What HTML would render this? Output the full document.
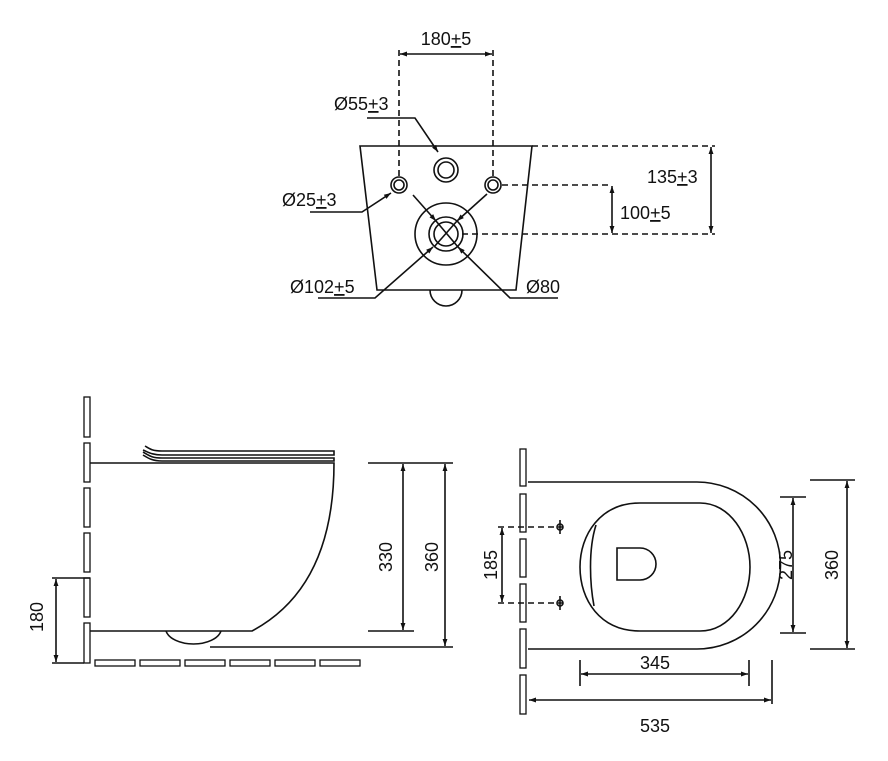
<!DOCTYPE html>
<html><head><meta charset="utf-8"><style>
html,body{margin:0;padding:0;background:#fff;}
svg{display:block;}
text{font-family:"Liberation Sans",sans-serif;font-size:18px;fill:#111;}
</style></head><body>
<svg width="888" height="761" viewBox="0 0 888 761" xmlns="http://www.w3.org/2000/svg">
<defs>
<marker id="a" viewBox="0 0 10 10" refX="10" refY="5" markerWidth="10" markerHeight="7" orient="auto-start-reverse" markerUnits="userSpaceOnUse"><path d="M0,1.5 L10,5 L0,8.5z" fill="#111"/></marker>
</defs>
<g stroke="#111" stroke-width="1.6" fill="none">
<!-- TOP VIEW -->
<path d="M360,146 L532,146 L516,290 L377,290 Z"/>
<path d="M430,290 A16,16 0 0 0 462,290"/>
<g stroke-dasharray="6,4">
<line x1="399" y1="50" x2="399" y2="177"/>
<line x1="493" y1="50" x2="493" y2="177"/>
<line x1="532" y1="146" x2="715" y2="146"/>
<line x1="502" y1="185" x2="612" y2="185"/>
<line x1="462" y1="234" x2="715" y2="234"/>
</g>
<line x1="400" y1="54" x2="492" y2="54" marker-start="url(#a)" marker-end="url(#a)"/>
<circle cx="446" cy="170" r="12"/><circle cx="446" cy="170" r="8"/>
<circle cx="399" cy="185" r="8"/><circle cx="399" cy="185" r="5"/>
<circle cx="493" cy="185" r="8"/><circle cx="493" cy="185" r="5"/>
<circle cx="446" cy="234" r="31"/><circle cx="446" cy="234" r="17"/><circle cx="446" cy="234" r="12"/>
<line x1="413" y1="195" x2="436" y2="221" marker-end="url(#a)"/>
<line x1="487" y1="194" x2="457" y2="221" marker-end="url(#a)"/>
<line x1="436" y1="221" x2="458" y2="247"/>
<line x1="457" y1="221" x2="434" y2="247"/>
<line x1="612" y1="186" x2="612" y2="233" marker-start="url(#a)" marker-end="url(#a)"/>
<line x1="711" y1="147" x2="711" y2="233" marker-start="url(#a)" marker-end="url(#a)"/>
<polyline points="367,118 415,118 438,152" marker-end="url(#a)"/>
<polyline points="310,212 362,212 391,193" marker-end="url(#a)"/>
<polyline points="318,298 375,298 433,247" marker-end="url(#a)"/>
<polyline points="558,298 510,298 458,247" marker-end="url(#a)"/>

<!-- SIDE VIEW -->
<g stroke-width="1.3">
<rect x="84" y="397" width="6" height="40"/><rect x="84" y="443" width="6" height="39"/>
<rect x="84" y="488" width="6" height="39"/><rect x="84" y="533" width="6" height="39"/>
<rect x="84" y="578" width="6" height="39"/><rect x="84" y="623" width="6" height="40"/>
<rect x="95" y="660" width="40" height="6"/><rect x="140" y="660" width="40" height="6"/>
<rect x="185" y="660" width="40" height="6"/><rect x="230" y="660" width="40" height="6"/>
<rect x="275" y="660" width="40" height="6"/><rect x="320" y="660" width="40" height="6"/>
</g>
<path d="M90,463 L334,463 C334,540 310,600 252,631 L90,631"/>
<path d="M166,631 A28,16 0 0 0 221,631"/>
<path d="M145,446 C150,449 152,451 162,451 L334,451 L334,455 L162,455 C152,455 148,452 143,450"/>
<path d="M143,452 C150,456 152,458 162,458 L334,458 L334,461 L162,461 C152,461 148,458 143,455"/>
<line x1="368" y1="463" x2="414" y2="463"/><line x1="368" y1="631" x2="414" y2="631"/>
<line x1="403" y1="464" x2="403" y2="630" marker-start="url(#a)" marker-end="url(#a)"/>
<line x1="414" y1="463" x2="453" y2="463"/><line x1="210" y1="647" x2="453" y2="647"/>
<line x1="445" y1="464" x2="445" y2="646" marker-start="url(#a)" marker-end="url(#a)"/>
<line x1="52" y1="578" x2="90" y2="578"/><line x1="52" y1="663" x2="84" y2="663"/>
<line x1="56" y1="579" x2="56" y2="662" marker-start="url(#a)" marker-end="url(#a)"/>

<!-- PLAN VIEW -->
<g stroke-width="1.3">
<rect x="520" y="449" width="6" height="37"/><rect x="520" y="494" width="6" height="38"/>
<rect x="520" y="539" width="6" height="38"/><rect x="520" y="584" width="6" height="38"/>
<rect x="520" y="629" width="6" height="39"/><rect x="520" y="675" width="6" height="39"/>
</g>
<path d="M528,482 L697,482 A83.5,83.5 0 0 1 697,649 L528,649"/>
<path d="M640,503 L700,503 C730,503 750,535 750,567 C750,600 730,631 700,631 L640,631 C600,631 580,600 580,567 C580,535 600,503 640,503 Z"/>
<path d="M596,525 C588,550 590,585 594,606"/>
<path d="M617,548 L640,548 A16,16 0 0 1 640,580 L617,580 Z"/>
<g stroke-dasharray="6,4"><line x1="498" y1="527" x2="563" y2="527"/><line x1="498" y1="603" x2="563" y2="603"/></g>
<circle cx="560" cy="527" r="3"/><line x1="560" y1="520" x2="560" y2="534"/>
<circle cx="560" cy="603" r="3"/><line x1="560" y1="596" x2="560" y2="610"/>
<line x1="502" y1="528" x2="502" y2="602" marker-start="url(#a)" marker-end="url(#a)"/>
<line x1="780" y1="497" x2="806" y2="497"/><line x1="780" y1="633" x2="806" y2="633"/>
<line x1="793" y1="498" x2="793" y2="632" marker-start="url(#a)" marker-end="url(#a)"/>
<line x1="810" y1="480" x2="855" y2="480"/><line x1="810" y1="649" x2="855" y2="649"/>
<line x1="847" y1="481" x2="847" y2="648" marker-start="url(#a)" marker-end="url(#a)"/>
<line x1="580" y1="660" x2="580" y2="686"/><line x1="749" y1="660" x2="749" y2="686"/>
<line x1="581" y1="674" x2="748" y2="674" marker-start="url(#a)" marker-end="url(#a)"/>
<line x1="772" y1="660" x2="772" y2="704"/>
<line x1="529" y1="700" x2="771" y2="700" marker-start="url(#a)" marker-end="url(#a)"/>
</g>
<g stroke="none">
<text x="446" y="45" text-anchor="middle">180<tspan text-decoration="underline">+</tspan>5</text>
<text x="334" y="110">Ø55<tspan text-decoration="underline">+</tspan>3</text>
<text x="282" y="206">Ø25<tspan text-decoration="underline">+</tspan>3</text>
<text x="290" y="293">Ø102<tspan text-decoration="underline">+</tspan>5</text>
<text x="526" y="293">Ø80</text>
<text x="620" y="219">100<tspan text-decoration="underline">+</tspan>5</text>
<text x="647" y="183">135<tspan text-decoration="underline">+</tspan>3</text>
<text transform="translate(392,557) rotate(-90)" text-anchor="middle">330</text>
<text transform="translate(438,557) rotate(-90)" text-anchor="middle">360</text>
<text transform="translate(43,617) rotate(-90)" text-anchor="middle">180</text>
<text transform="translate(497,565) rotate(-90)" text-anchor="middle">185</text>
<text transform="translate(792,565) rotate(-90)" text-anchor="middle">275</text>
<text transform="translate(838,565) rotate(-90)" text-anchor="middle">360</text>
<text x="655" y="669" text-anchor="middle">345</text>
<text x="655" y="732" text-anchor="middle">535</text>
</g>
</svg>
</body></html>
